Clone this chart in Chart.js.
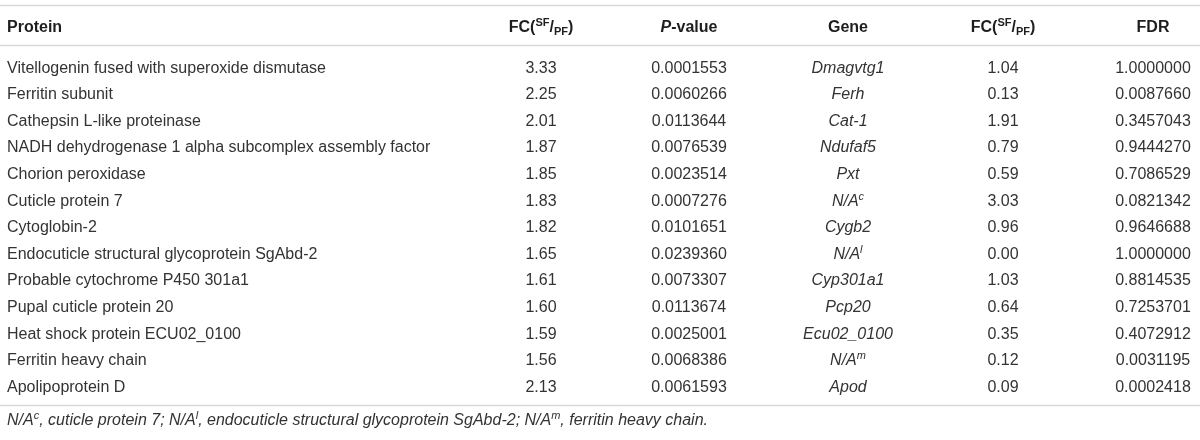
<!DOCTYPE html>
<html>
<head>
<meta charset="utf-8">
<script src="https://cdn.jsdelivr.net/npm/chart.js@4/dist/chart.umd.min.js"></script>
<style>
html,body{margin:0;padding:0;background:#fff;}
#wrap{width:1200px;height:440px;position:relative;}
</style>
</head>
<body>
<div id="wrap"><canvas id="c"></canvas></div>
<script>
// ---------- DATA ----------
const proteins = [
  "Vitellogenin fused with superoxide dismutase",
  "Ferritin subunit",
  "Cathepsin L-like proteinase",
  "NADH dehydrogenase 1 alpha subcomplex assembly factor",
  "Chorion peroxidase",
  "Cuticle protein 7",
  "Cytoglobin-2",
  "Endocuticle structural glycoprotein SgAbd-2",
  "Probable cytochrome P450 301a1",
  "Pupal cuticle protein 20",
  "Heat shock protein ECU02_0100",
  "Ferritin heavy chain",
  "Apolipoprotein D"
];
const fcProtein = [3.33, 2.25, 2.01, 1.87, 1.85, 1.83, 1.82, 1.65, 1.61, 1.60, 1.59, 1.56, 2.13];
const pValues = [0.0001553, 0.0060266, 0.0113644, 0.0076539, 0.0023514, 0.0007276, 0.0101651, 0.0239360, 0.0073307, 0.0113674, 0.0025001, 0.0068386, 0.0061593];
const genes = ["Dmagvtg1", "Ferh", "Cat-1", "Ndufaf5", "Pxt", "N/A", "Cygb2", "N/A", "Cyp301a1", "Pcp20", "Ecu02_0100", "N/A", "Apod"];
const geneNotes = ["", "", "", "", "", "c", "", "l", "", "", "", "m", ""];
const fcGene = [1.04, 0.13, 1.91, 0.79, 0.59, 3.03, 0.96, 0.00, 1.03, 0.64, 0.35, 0.12, 0.09];
const fdrValues = [1.0000000, 0.0087660, 0.3457043, 0.9444270, 0.7086529, 0.0821342, 0.9646688, 1.0000000, 0.8814535, 0.7253701, 0.4072912, 0.0031195, 0.0002418];
const headerTitles = ["Protein", "FC", "P-value", "Gene", "FC", "FDR"];
const footnoteParts = [
  ["N/A", "c", ", cuticle protein 7; "],
  ["N/A", "l", ", endocuticle structural glycoprotein SgAbd-2; "],
  ["N/A", "m", ", ferritin heavy chain."]
];

// ---------- LAYOUT / STYLE ----------
const FONT = '"Liberation Sans", Arial, Helvetica, sans-serif';
const BODY_SIZE = 16;
const BODY_COLOR = '#333333';
const HEAD_COLOR = '#1e1e1e';
const RULE_COLOR = '#d9d9d9';
const HEADER_ROW = -1.534;
const FOOT_ROW = 13.27;
const RULE_ROWS = [-2.519, -1.015, 12.52];

const columns = [
  {x: 7,    align: 'left',   italic: false, fmt: i => proteins[i]},
  {x: 541,  align: 'center', italic: false, fmt: i => fcProtein[i].toFixed(2)},
  {x: 689,  align: 'center', italic: false, fmt: i => pValues[i].toFixed(7)},
  {x: 848,  align: 'center', italic: true,  fmt: i => genes[i], sup: i => geneNotes[i]},
  {x: 1003, align: 'center', italic: false, fmt: i => fcGene[i].toFixed(2)},
  {x: 1153, align: 'center', italic: false, fmt: i => fdrValues[i].toFixed(7)}
];

const rowIdx = proteins.map((_, i) => i);

const cellDatasets = columns.map((col, c) => ({
  label: 'col' + c,
  data: [{x: col.x, y: HEADER_ROW}].concat(rowIdx.map(i => ({x: col.x, y: i}))),
  pointRadius: 0,
  pointHoverRadius: 0,
  showLine: false,
  colIndex: c
}));

const ruleDatasets = RULE_ROWS.map((r, k) => ({
  label: 'rule' + k,
  data: [{x: 0, y: r}, {x: 1200, y: r}],
  showLine: true,
  borderColor: RULE_COLOR,
  borderWidth: 1.5,
  pointRadius: 0,
  pointHoverRadius: 0,
  fill: false
}));

const footDataset = {
  label: 'foot',
  data: [{x: 7, y: FOOT_ROW}],
  pointRadius: 0,
  pointHoverRadius: 0,
  isFoot: true
};

// rich text: parts = [{t, size, weight, italic, dy}]
function fontStr(p) {
  return (p.italic ? 'italic ' : '') + (p.weight || 'normal') + ' ' + p.size + 'px ' + FONT;
}
function drawRich(ctx, parts, x, y, align, color) {
  let w = 0;
  parts.forEach(p => { ctx.font = fontStr(p); p.w = ctx.measureText(p.t).width; w += p.w; });
  let cx = align === 'left' ? x : (align === 'right' ? x - w : x - w / 2);
  ctx.fillStyle = color;
  ctx.textAlign = 'left';
  ctx.textBaseline = 'alphabetic';
  parts.forEach(p => {
    ctx.font = fontStr(p);
    ctx.fillText(p.t, cx, y + (p.dy || 0));
    cx += p.w;
  });
}

function headerParts(c) {
  const b = {size: BODY_SIZE, weight: 'bold'};
  if (c === 1 || c === 4) {
    return [
      Object.assign({t: 'FC('}, b),
      {t: 'SF', size: 11, weight: 'bold', dy: -6},
      Object.assign({t: '/'}, b),
      {t: 'PF', size: 11, weight: 'bold', dy: 3},
      Object.assign({t: ')'}, b)
    ];
  }
  if (c === 2) {
    return [
      {t: 'P', size: BODY_SIZE, weight: 'bold', italic: true},
      Object.assign({t: '-value'}, b)
    ];
  }
  return [Object.assign({t: headerTitles[c]}, b)];
}

const tablePlugin = {
  id: 'tableText',
  afterDatasetsDraw(chart) {
    const ctx = chart.ctx;
    ctx.save();
    chart.data.datasets.forEach((ds, di) => {
      const meta = chart.getDatasetMeta(di);
      if (ds.isFoot) {
        const el = meta.data[0];
        const parts = [];
        footnoteParts.forEach(fp => {
          parts.push({t: fp[0], size: BODY_SIZE, italic: true});
          parts.push({t: fp[1], size: 11, italic: true, dy: -6});
          parts.push({t: fp[2], size: BODY_SIZE, italic: true});
        });
        drawRich(ctx, parts, el.x, el.y, 'left', BODY_COLOR);
        return;
      }
      if (ds.colIndex === undefined) return;
      const col = columns[ds.colIndex];
      meta.data.forEach((el, k) => {
        if (k === 0) {
          drawRich(ctx, headerParts(ds.colIndex), el.x, el.y, col.align, HEAD_COLOR);
        } else {
          const i = k - 1;
          const parts = [{t: col.fmt(i), size: BODY_SIZE, italic: col.italic}];
          const s = col.sup ? col.sup(i) : '';
          if (s) parts.push({t: s, size: 11, italic: true, dy: -6});
          drawRich(ctx, parts, el.x, el.y, col.align, BODY_COLOR);
        }
      });
    });
    ctx.restore();
  }
};

new Chart(document.getElementById('c'), {
  type: 'scatter',
  data: {datasets: ruleDatasets.concat(cellDatasets, [footDataset])},
  options: {
    responsive: true,
    maintainAspectRatio: false,
    animation: false,
    events: [],
    layout: {padding: 0},
    plugins: {legend: {display: false}, tooltip: {enabled: false}},
    scales: {
      x: {type: 'linear', min: 0, max: 1200, display: false},
      y: {type: 'linear', min: -2.7256, max: 13.8158, reverse: true, display: false}
    }
  },
  plugins: [tablePlugin]
});
</script>
</body>
</html>
